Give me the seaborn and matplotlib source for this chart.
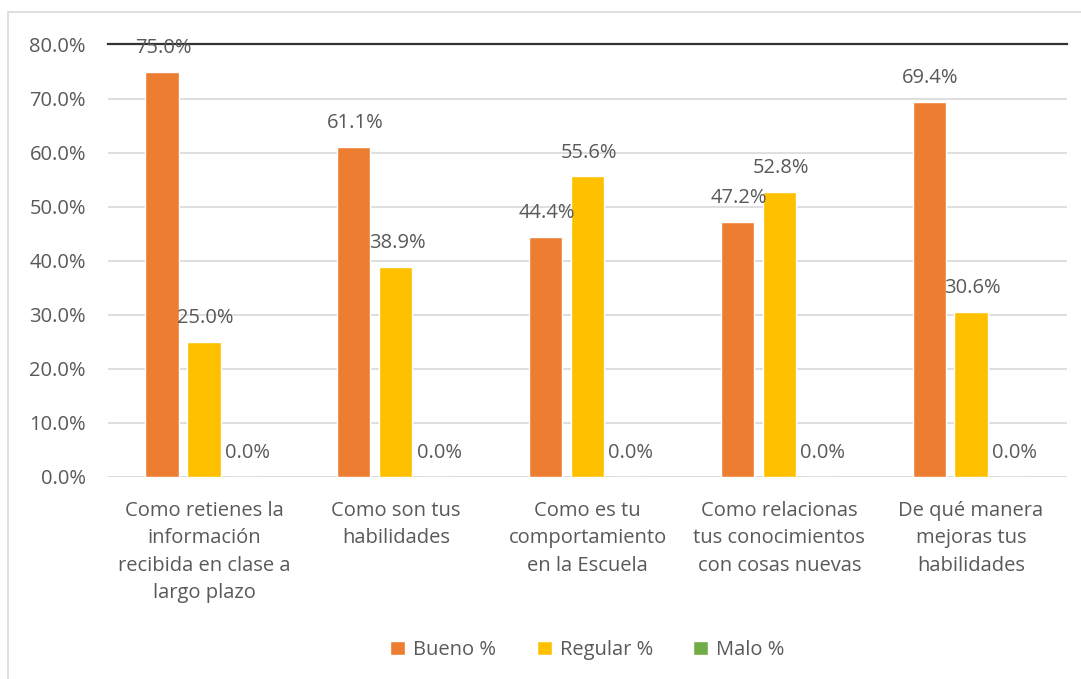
import matplotlib
matplotlib.use("Agg")
import matplotlib.pyplot as plt
import seaborn as sns
import pandas as pd
from matplotlib.patches import Rectangle

# Chart data
categories = [
    "Como retienes la\ninformación\nrecibida en clase a\nlargo plazo",
    "Como son tus\nhabilidades",
    "Como es tu\ncomportamiento\nen la Escuela",
    "Como relacionas\ntus conocimientos\ncon cosas nuevas",
    "De qué manera\nmejoras tus\nhabilidades",
]
series = ["Bueno %", "Regular %", "Malo %"]
bueno = [75.0, 61.1, 44.4, 47.2, 69.4]
regular = [25.0, 38.9, 55.6, 52.8, 30.6]
malo = [0.0, 0.0, 0.0, 0.0, 0.0]
colors = ["#ED7D31", "#FFC000", "#70AD47"]

df = pd.DataFrame({
    "cat": categories * 3,
    "serie": [s for s in series for _ in categories],
    "val": bueno + regular + malo,
})

sns.set_style("white")
plt.rcParams["font.family"] = ["Open Sans", "DejaVu Sans"]
text_color = "#595959"
fs = 14.5

fig = plt.figure(figsize=(10.81, 6.79), dpi=100)
ax = fig.add_axes([0.1, 0.2975, 0.887, 0.637])

sns.barplot(data=df, x="cat", y="val", hue="serie", palette=colors,
            width=0.656, gap=0.21, saturation=1, ax=ax, legend=True)

ax.set_ylim(0, 80)
ax.set_yticks(range(0, 81, 10))
ax.set_yticklabels([f"{v:.1f}%" for v in range(0, 81, 10)])
ax.yaxis.grid(True, color="#D9D9D9", linewidth=1.2)
ax.set_axisbelow(True)
for s in ["left", "right", "bottom"]:
    ax.spines[s].set_visible(False)
ax.spines["top"].set_color("#333333")
ax.spines["top"].set_linewidth(1.6)
ax.axhline(0, color="#D9D9D9", linewidth=1.2, zorder=0)
ax.set_xlabel("")
ax.set_ylabel("")
ax.tick_params(axis="both", length=0, labelsize=fs, colors=text_color)
ax.tick_params(axis="y", pad=16)
ax.tick_params(axis="x", pad=17)
for lbl in ax.get_xticklabels():
    lbl.set_linespacing(1.5)
    lbl.set_va("top")

# value labels
for cont in ax.containers:
    for bar in cont:
        h = bar.get_height()
        ax.annotate(f"{h:.1f}%", (bar.get_x() + bar.get_width() / 2, h),
                    xytext=(1, 10), textcoords="offset points",
                    ha="center", va="bottom", fontsize=fs, color=text_color)

leg = ax.legend(loc="upper center", bbox_to_anchor=(0.5, -0.335), ncol=3,
                frameon=False, fontsize=fs, handlelength=0.75, handleheight=0.75,
                columnspacing=2.0, handletextpad=0.4)
for t in leg.get_texts():
    t.set_color(text_color)

# outer chart border
fig.patches.append(Rectangle((0.0075, -0.01), 1.0, 0.992, transform=fig.transFigure,
                             fill=False, edgecolor="#D9D9D9", linewidth=1.2))

fig.savefig("out.png", dpi=100)
